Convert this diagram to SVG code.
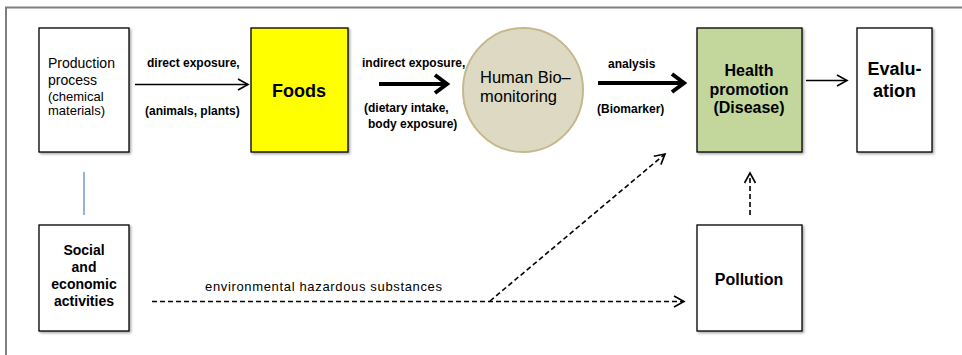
<svg xmlns="http://www.w3.org/2000/svg" width="962" height="355" viewBox="0 0 962 355">
<defs>
<style>
.box{stroke:#000;stroke-width:1.3;filter:url(#sh)}
.t{font-family:"Liberation Sans",Arial,sans-serif;fill:#000}
.lbl{font-family:"Liberation Sans",Arial,sans-serif;font-size:12px;font-weight:bold;fill:#000}
.b{font-weight:bold}
.c{text-anchor:middle}
.thin{stroke:#000;stroke-width:1.6;fill:none}
.thick{stroke:#000;stroke-width:4;fill:none}
.dash{stroke:#000;stroke-width:1.6;fill:none;stroke-dasharray:5,3}
</style>
<filter id="sh" x="-10%" y="-10%" width="130%" height="130%">
<feDropShadow dx="1.5" dy="1.5" stdDeviation="1.2" flood-color="#000" flood-opacity="0.35"/>
</filter>
<marker id="ah" markerUnits="userSpaceOnUse" markerWidth="16" markerHeight="16" refX="11" refY="6" orient="auto" overflow="visible">
<path d="M1,0.5 L11,6 L1,11.5" fill="none" stroke="#000" stroke-width="1.6"/>
</marker>
<marker id="ahk" markerUnits="userSpaceOnUse" markerWidth="20" markerHeight="24" refX="14" refY="10" orient="auto" overflow="visible">
<path d="M2,1 L14,10 L2,19" fill="none" stroke="#000" stroke-width="4" stroke-linejoin="miter"/>
</marker>
</defs>
<rect width="962" height="355" fill="#fff"/>
<path d="M6,355 V7.5 H962" fill="none" stroke="#7f7f7f" stroke-width="2"/>

<g id="production">
<rect class="box" x="39" y="28" width="90" height="124" fill="#fff"/>
<text class="t" x="48" y="68" font-size="14">Production</text>
<text class="t" x="48" y="85" font-size="14">process</text>
<text class="t" x="48" y="101" font-size="13">(chemical</text>
<text class="t" x="48" y="115" font-size="13">materials)</text>
</g>

<g id="foods">
<rect class="box" x="251" y="28" width="97" height="124" fill="#ffff00"/>
<text class="t b c" x="299" y="97" font-size="18">Foods</text>
</g>

<g id="biomonitoring">
<ellipse cx="523" cy="90" rx="60" ry="62" fill="#ddd9c3" stroke="#c4b98c" stroke-width="2"/>
<text class="t" x="480" y="83" font-size="16.5">Human Bio–</text>
<text class="t" x="480" y="102" font-size="16.5">monitoring</text>
</g>

<g id="health">
<rect class="box" x="697" y="28" width="105" height="124" fill="#c3d69b"/>
<text class="t b c" x="749" y="76" font-size="16">Health</text>
<text class="t b c" x="749" y="95" font-size="16">promotion</text>
<text class="t b c" x="749" y="113" font-size="16">(Disease)</text>
</g>

<g id="evaluation">
<rect class="box" x="857" y="28" width="75" height="124" fill="#fff"/>
<text class="t b c" x="894.5" y="75" font-size="18">Evalu-</text>
<text class="t b c" x="894.5" y="97" font-size="18">ation</text>
</g>

<g id="social">
<rect class="box" x="39" y="225" width="90" height="106" fill="#fff"/>
<text class="t b c" x="84" y="255" font-size="14">Social</text>
<text class="t b c" x="84" y="272" font-size="14">and</text>
<text class="t b c" x="84" y="289" font-size="14">economic</text>
<text class="t b c" x="84" y="306" font-size="14">activities</text>
</g>

<g id="pollution">
<rect class="box" x="697" y="225" width="105" height="106" fill="#fff"/>
<text class="t b c" x="749" y="285" font-size="16">Pollution</text>
</g>

<g id="connectors">
<line x1="84" y1="172" x2="84" y2="215" stroke="#4f81bd" stroke-width="1.2"/>
<line class="thin" x1="135" y1="84.5" x2="248" y2="84.5" marker-end="url(#ah)"/>
<line class="thick" x1="379" y1="84" x2="447" y2="84" marker-end="url(#ahk)"/>
<line class="thick" x1="598" y1="83" x2="684" y2="83" marker-end="url(#ahk)"/>
<line class="thin" x1="806" y1="80.5" x2="847" y2="80.5" marker-end="url(#ah)"/>
<line class="dash" x1="152" y1="301.5" x2="684" y2="301.5" marker-end="url(#ah)"/>
<line class="dash" x1="490" y1="301" x2="665" y2="154" marker-end="url(#ah)"/>
<line class="dash" x1="750" y1="215" x2="750" y2="173" marker-end="url(#ah)"/>
<text class="lbl" x="147" y="67">direct exposure,</text>
<text class="lbl" x="145" y="115">(animals, plants)</text>
<text class="lbl" x="362" y="67">indirect exposure,</text>
<text class="lbl" x="364" y="112">(dietary intake,</text>
<text class="lbl" x="368" y="128">body exposure)</text>
<text class="lbl" x="608" y="68">analysis</text>
<text class="lbl" x="597" y="113">(Biomarker)</text>
<text class="t" x="205" y="291" font-size="13" textLength="237" lengthAdjust="spacing">environmental hazardous substances</text>
</g>
</svg>
